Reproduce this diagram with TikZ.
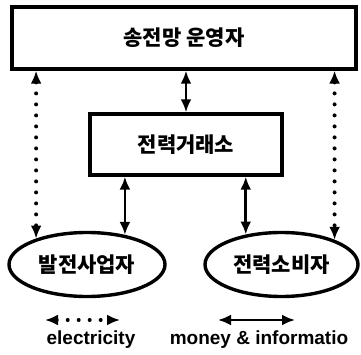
\documentclass[tikz,border=0pt]{standalone}
\usepackage{fontspec}
\setmainfont{Liberation Sans}
\newfontfamily\krfont{Noto Sans CJK KR}
\usetikzlibrary{arrows.meta,shapes.geometric}

\tikzset{
  orgbox/.style={draw, line width=3.4pt, minimum height=62pt, inner sep=0pt,
    font=\krfont\bfseries\fontsize{21}{23}\selectfont},
  party/.style={ellipse, draw, line width=3.4pt, minimum width=156pt,
    minimum height=64pt, inner sep=0pt, font=\krfont\bfseries\fontsize{21}{23}\selectfont},
  money/.style={<->, >={Latex[length=13pt,width=11pt]}, line width=2.6pt},
  elec/.style={<->, >={Latex[length=13pt,width=11pt]}, line width=4pt,
    dash pattern=on 0pt off 11pt, line cap=round},
  legendtext/.style={font=\bfseries\fontsize{19}{21}\selectfont}
}

\begin{document}
\begin{tikzpicture}[x=1pt, y=-1pt]
\useasboundingbox (0,0) rectangle (361,355);

% operators and market
\node[orgbox, minimum width=344pt] (tso) at (184,38) {송전망 운영자};
\node[orgbox, minimum width=192pt, minimum height=61pt] (px) at (186,144.5) {전력거래소};

% generators and consumers
\node[party] (gen) at (87,264.5) {발전사업자};
\node[party, minimum width=153pt] (con) at (281.5,264.5) {전력소비자};

% money & information
\draw[money] (tso.south -| px) -- (px.north);
\draw[money] (px.south -| gen.38) -- (gen.38);
\draw[money] (px.south -| con.140) -- (con.140);

% electricity
\draw[elec] (tso.south -| gen.153) -- (gen.153);
\draw[elec] (tso.south -| con.25) -- (con.25);

% legend
\coordinate (e1) at (45,320);
\coordinate (e2) at (120,320);
\coordinate (m1) at (218,320);
\coordinate (m2) at (295,320);
\draw[elec] (e1) -- (e2);
\draw[money] (m1) -- (m2);
\node[legendtext] (elabel) at (91,340) {electricity};
\node[legendtext] (mlabel) at (259,340) {money \& informatio};
\end{tikzpicture}
\end{document}
